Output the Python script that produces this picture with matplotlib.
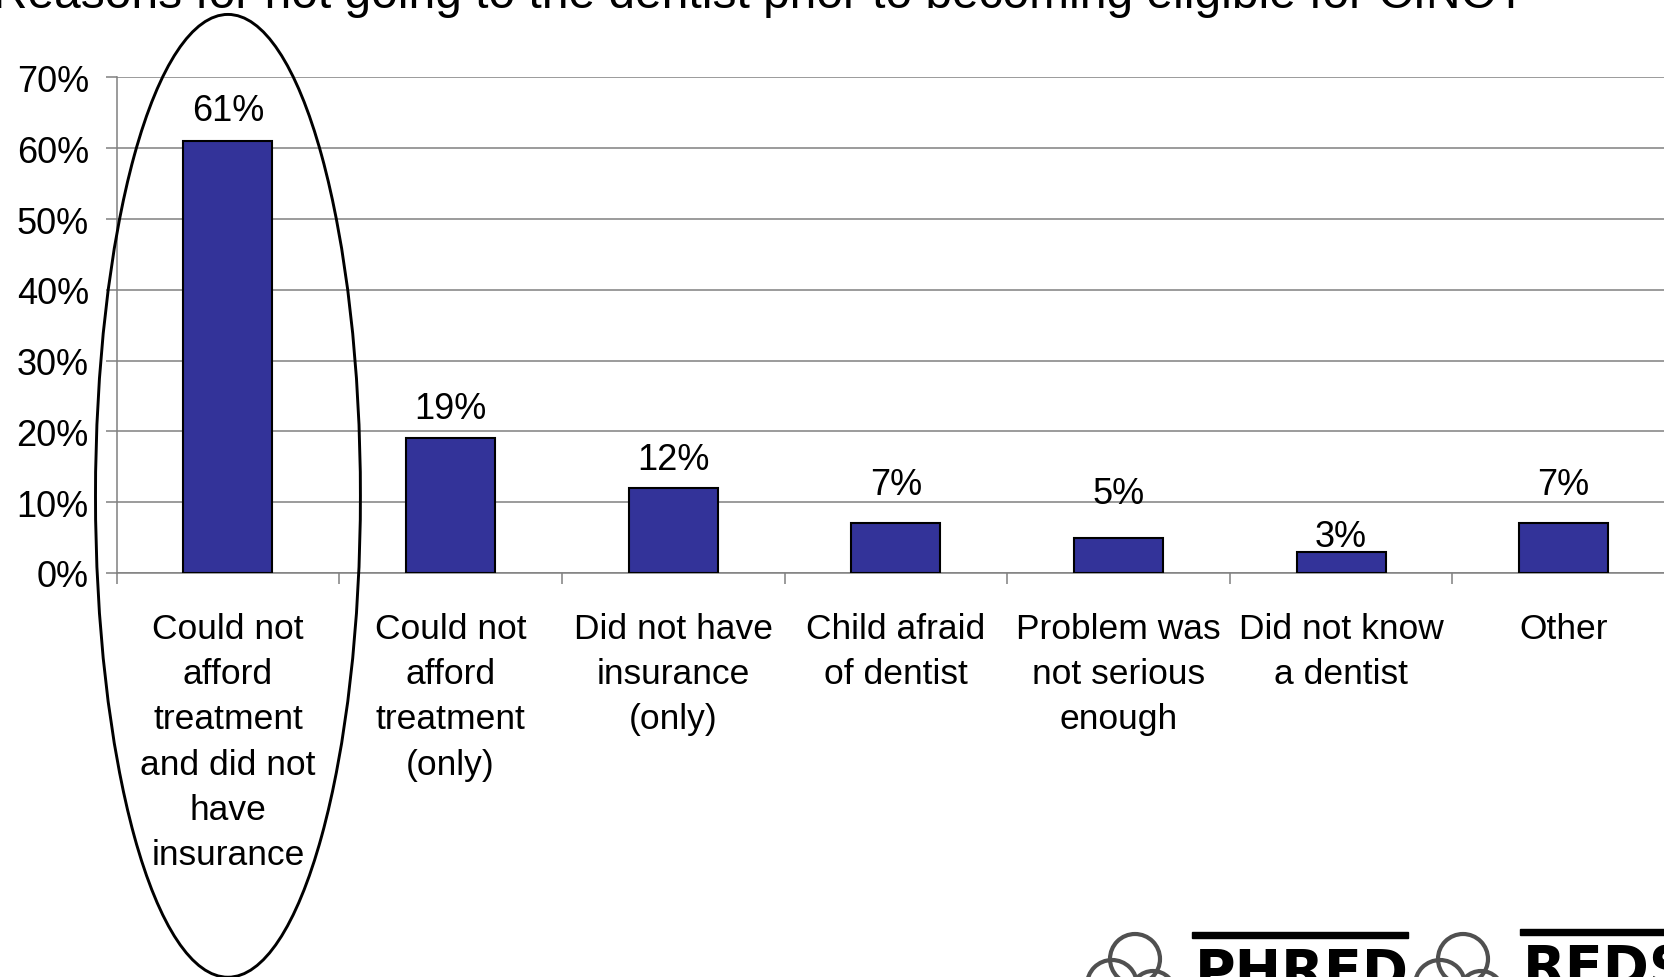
import matplotlib.pyplot as plt
from matplotlib.patches import Ellipse, Circle, Rectangle

plt.rcParams['font.family'] = ['Liberation Sans', 'DejaVu Sans']

reasons = ["Could not\nafford\ntreatment\nand did not\nhave\ninsurance",
           "Could not\nafford\ntreatment\n(only)",
           "Did not have\ninsurance\n(only)",
           "Child afraid\nof dentist",
           "Problem was\nnot serious\nenough",
           "Did not know\na dentist",
           "Other"]
percent = [61, 19, 12, 7, 5, 3, 7]
yticks = [0, 10, 20, 30, 40, 50, 60, 70]

# label offsets above each bar (points), as placed on the slide
label_lift = [15, 14.5, 14, 21, 25, 4.5, 21]

fig = plt.figure(figsize=(16.64, 9.78), dpi=100)
ax = fig.add_axes([0.0701, 0.4131, 0.9365, 0.5067])

x = list(range(len(percent)))
ax.bar(x, percent, width=0.4, color='#333399', edgecolor='black',
       linewidth=1.5, zorder=3)

for xi, v, lift in zip(x, percent, label_lift):
    ax.annotate(f"{v}%", xy=(xi, v), xytext=(0, lift), textcoords='offset points',
                ha='center', va='baseline', fontsize=26, zorder=4)

ax.set_xlim(-0.5, len(percent) - 0.5)
ax.set_ylim(0, 70)
ax.set_yticks(yticks)
ax.set_yticklabels([f"{t}%" for t in yticks], fontsize=26)
ax.yaxis.grid(True, color='#808080', linewidth=1.1, zorder=0)

# category boundaries carry the ticks, centres carry the labels
ax.set_xticks([i - 0.5 for i in range(len(percent) + 1)])
ax.set_xticklabels([])
ax.set_xticks(x, minor=True)
ax.set_xticklabels(reasons, minor=True, fontsize=25.5, linespacing=1.47, va='top')
ax.tick_params(axis='x', which='major', length=8, color='#808080', width=1.1)
ax.tick_params(axis='x', which='minor', length=0, pad=28)
ax.tick_params(axis='y', length=8, color='#808080', width=1.1, pad=12)

for side in ['top', 'right']:
    ax.spines[side].set_visible(False)
for side in ['left', 'bottom']:
    ax.spines[side].set_color('#808080')
    ax.spines[side].set_linewidth(1.1)

# highlight ring round the first reason
ax.add_patch(Ellipse((0, 10.9), 1.19, 136, fill=False, edgecolor='black',
                     linewidth=2.1, clip_on=False, zorder=5))

fig.text(-0.004, 1 - 8.5 / 978, "Reasons for not going to the dentist prior to becoming eligible for CINCY",
         fontsize=34.5, ha='left', va='baseline')

# logos along the bottom edge, drawn in pixel space
over = fig.add_axes([0, 0, 1, 1])
over.set_xlim(0, 1664)
over.set_ylim(978, 0)
over.axis('off')
for tx, txt, bar_y, base in [(1195, "PHRED", 936, 989), (1523, "REDS", 933, 985)]:
    rx = tx - 60
    for cx, cy, r in [(rx, 960, 25), (rx - 23, 986, 25), (rx + 18, 994, 22)]:
        over.add_patch(Circle((cx, cy), r, fill=False, edgecolor='#505050', linewidth=3))
    over.add_patch(Rectangle((tx - 3, bar_y - 3), 216, 6, color='black'))
    over.text(tx, base, txt, fontsize=40, fontweight='bold', family='DejaVu Sans',
              ha='left', va='baseline')

fig.savefig('out.png', dpi=100)
